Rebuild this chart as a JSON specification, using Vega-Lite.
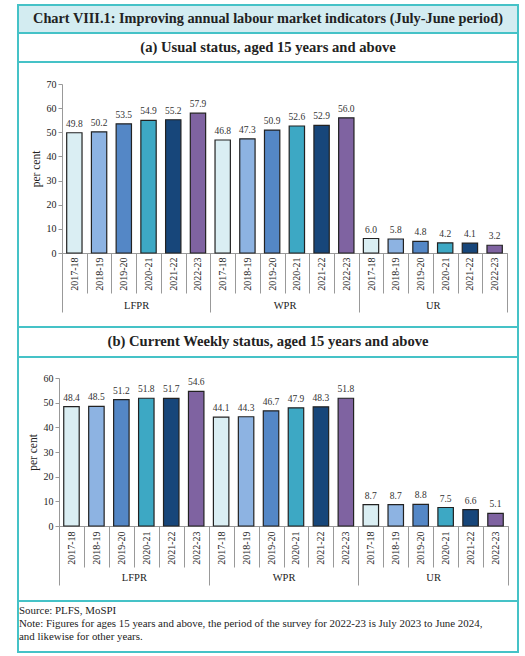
{
  "$schema": "https://vega.github.io/schema/vega-lite/v6.json",
  "background": "white",
  "padding": {"left": 12, "top": 4, "right": 12, "bottom": 3},
  "spacing": 0,
  "bounds": "flush",
  "datasets": {
    "a": [
      {"grp": "LFPR", "yr": "2017-18", "key": "LFPR|2017-18", "v": 49.8},
      {"grp": "LFPR", "yr": "2018-19", "key": "LFPR|2018-19", "v": 50.2},
      {"grp": "LFPR", "yr": "2019-20", "key": "LFPR|2019-20", "v": 53.5},
      {"grp": "LFPR", "yr": "2020-21", "key": "LFPR|2020-21", "v": 54.9},
      {"grp": "LFPR", "yr": "2021-22", "key": "LFPR|2021-22", "v": 55.2},
      {"grp": "LFPR", "yr": "2022-23", "key": "LFPR|2022-23", "v": 57.9},
      {"grp": "WPR", "yr": "2017-18", "key": "WPR|2017-18", "v": 46.8},
      {"grp": "WPR", "yr": "2018-19", "key": "WPR|2018-19", "v": 47.3},
      {"grp": "WPR", "yr": "2019-20", "key": "WPR|2019-20", "v": 50.9},
      {"grp": "WPR", "yr": "2020-21", "key": "WPR|2020-21", "v": 52.6},
      {"grp": "WPR", "yr": "2021-22", "key": "WPR|2021-22", "v": 52.9},
      {"grp": "WPR", "yr": "2022-23", "key": "WPR|2022-23", "v": 56.0},
      {"grp": "UR", "yr": "2017-18", "key": "UR|2017-18", "v": 6.0},
      {"grp": "UR", "yr": "2018-19", "key": "UR|2018-19", "v": 5.8},
      {"grp": "UR", "yr": "2019-20", "key": "UR|2019-20", "v": 4.8},
      {"grp": "UR", "yr": "2020-21", "key": "UR|2020-21", "v": 4.2},
      {"grp": "UR", "yr": "2021-22", "key": "UR|2021-22", "v": 4.1},
      {"grp": "UR", "yr": "2022-23", "key": "UR|2022-23", "v": 3.2}
    ],
    "b": [
      {"grp": "LFPR", "yr": "2017-18", "key": "LFPR|2017-18", "v": 48.4},
      {"grp": "LFPR", "yr": "2018-19", "key": "LFPR|2018-19", "v": 48.5},
      {"grp": "LFPR", "yr": "2019-20", "key": "LFPR|2019-20", "v": 51.2},
      {"grp": "LFPR", "yr": "2020-21", "key": "LFPR|2020-21", "v": 51.8},
      {"grp": "LFPR", "yr": "2021-22", "key": "LFPR|2021-22", "v": 51.7},
      {"grp": "LFPR", "yr": "2022-23", "key": "LFPR|2022-23", "v": 54.6},
      {"grp": "WPR", "yr": "2017-18", "key": "WPR|2017-18", "v": 44.1},
      {"grp": "WPR", "yr": "2018-19", "key": "WPR|2018-19", "v": 44.3},
      {"grp": "WPR", "yr": "2019-20", "key": "WPR|2019-20", "v": 46.7},
      {"grp": "WPR", "yr": "2020-21", "key": "WPR|2020-21", "v": 47.9},
      {"grp": "WPR", "yr": "2021-22", "key": "WPR|2021-22", "v": 48.3},
      {"grp": "WPR", "yr": "2022-23", "key": "WPR|2022-23", "v": 51.8},
      {"grp": "UR", "yr": "2017-18", "key": "UR|2017-18", "v": 8.7},
      {"grp": "UR", "yr": "2018-19", "key": "UR|2018-19", "v": 8.7},
      {"grp": "UR", "yr": "2019-20", "key": "UR|2019-20", "v": 8.8},
      {"grp": "UR", "yr": "2020-21", "key": "UR|2020-21", "v": 7.5},
      {"grp": "UR", "yr": "2021-22", "key": "UR|2021-22", "v": 6.6},
      {"grp": "UR", "yr": "2022-23", "key": "UR|2022-23", "v": 5.1}
    ]
  },
  "vconcat": [
    {
      "width": 500, "height": 28,
      "data": {"values": [{"t": "Chart VIII.1: Improving annual labour market indicators (July-June period)"}]},
      "layer": [
        {"mark": {"type": "bar", "fill": "#D3ECF1", "stroke": "#45C2C7", "strokeWidth": 2}, "encoding": {}},
        {"mark": {"type": "text", "font": "Liberation Serif", "fontWeight": "bold", "fontSize": 14.3, "color": "#222222"},
         "encoding": {"text": {"field": "t", "type": "nominal"}}}
      ]
    },
    {
      "width": 500, "height": 29,
      "data": {"values": [{"t": "(a) Usual status, aged 15 years and above"}]},
      "layer": [
        {"mark": {"type": "bar", "fill": "white", "stroke": "#45C2C7", "strokeWidth": 2}, "encoding": {}},
        {"mark": {"type": "text", "font": "Liberation Serif", "fontWeight": "bold", "fontSize": 14.6, "color": "#222222"},
         "encoding": {"text": {"field": "t", "type": "nominal"}}}
      ]
    },
    {
      "width": 500, "height": 265,
      "data": {"name": "a"},
      "layer": [
        {
          "layer": [
            {
              "mark": {"type": "bar", "width": {"band": 0.62}, "stroke": "#222222", "strokeWidth": 1.2},
              "encoding": {
                "x": {"field": "key", "type": "nominal", "sort": null,
                  "scale": {"range": [44, 489], "paddingInner": 0, "paddingOuter": 0},
                  "axis": {"orient": "bottom", "offset": -74, "title": null, "labelExpr": "split(datum.label, '|')[1]", "labelAngle": -90, "labelOverlap": false, "tickBand": "extent", "tickSize": 40, "labelPadding": -36}},
                "y": {"field": "v", "type": "quantitative",
                  "scale": {"domain": [0, 70], "range": [191, 22], "nice": false},
                  "axis": {"offset": -44, "values": [0, 10, 20, 30, 40, 50, 60, 70], "tickCount": 8, "labelOverlap": false, "grid": false, "title": "per cent", "titlePadding": 5, "tickSize": 4}},
                "color": {"field": "yr", "type": "nominal",
                  "scale": {"domain": ["2017-18", "2018-19", "2019-20", "2020-21", "2021-22", "2022-23"], "range": ["#DAEEF3", "#8DB3E2", "#5487C6", "#3DA8C4", "#17467A", "#7F63A1"]},
                  "legend": null}
              }
            },
            {
              "mark": {"type": "text", "baseline": "bottom", "dy": -4, "font": "Liberation Serif", "fontSize": 9.5, "color": "#333333"},
              "encoding": {
                "x": {"field": "key", "type": "nominal", "sort": null},
                "y": {"field": "v", "type": "quantitative"},
                "text": {"field": "v", "type": "quantitative", "format": ".1f"}
              }
            }
          ]
        },
        {
          "mark": {"type": "bar", "opacity": 0},
          "encoding": {
            "x": {"field": "grp", "type": "nominal", "sort": null,
              "scale": {"range": [44, 489], "paddingInner": 0, "paddingOuter": 0},
              "axis": {"orient": "bottom", "offset": -74, "title": null, "domain": false, "labelAngle": 0, "tickBand": "extent", "tickSize": 59, "labelPadding": -12, "labelFontSize": 10.5}}
          }
        }
      ],
      "resolve": {"scale": {"x": "independent"}, "axis": {"x": "independent"}}
    },
    {
      "width": 500, "height": 30,
      "data": {"values": [{"t": "(b) Current Weekly status, aged 15 years and above"}]},
      "layer": [
        {"mark": {"type": "bar", "fill": "white", "stroke": "#45C2C7", "strokeWidth": 2}, "encoding": {}},
        {"mark": {"type": "text", "font": "Liberation Serif", "fontWeight": "bold", "fontSize": 14.6, "color": "#222222"},
         "encoding": {"text": {"field": "t", "type": "nominal"}}}
      ]
    },
    {
      "width": 500, "height": 244,
      "data": {"name": "b"},
      "layer": [
        {
          "layer": [
            {
              "mark": {"type": "bar", "width": {"band": 0.62}, "stroke": "#222222", "strokeWidth": 1.2},
              "encoding": {
                "x": {"field": "key", "type": "nominal", "sort": null,
                  "scale": {"range": [41, 490], "paddingInner": 0, "paddingOuter": 0},
                  "axis": {"orient": "bottom", "offset": -75, "title": null, "labelExpr": "split(datum.label, '|')[1]", "labelAngle": -90, "labelOverlap": false, "tickBand": "extent", "tickSize": 41, "labelPadding": -36}},
                "y": {"field": "v", "type": "quantitative",
                  "scale": {"domain": [0, 60], "range": [169, 21], "nice": false},
                  "axis": {"offset": -41, "values": [0, 10, 20, 30, 40, 50, 60], "tickCount": 7, "labelOverlap": false, "grid": false, "title": "per cent", "titlePadding": 5, "tickSize": 4}},
                "color": {"field": "yr", "type": "nominal",
                  "scale": {"domain": ["2017-18", "2018-19", "2019-20", "2020-21", "2021-22", "2022-23"], "range": ["#DAEEF3", "#8DB3E2", "#5487C6", "#3DA8C4", "#17467A", "#7F63A1"]},
                  "legend": null}
              }
            },
            {
              "mark": {"type": "text", "baseline": "bottom", "dy": -4, "font": "Liberation Serif", "fontSize": 9.5, "color": "#333333"},
              "encoding": {
                "x": {"field": "key", "type": "nominal", "sort": null},
                "y": {"field": "v", "type": "quantitative"},
                "text": {"field": "v", "type": "quantitative", "format": ".1f"}
              }
            }
          ]
        },
        {
          "mark": {"type": "bar", "opacity": 0},
          "encoding": {
            "x": {"field": "grp", "type": "nominal", "sort": null,
              "scale": {"range": [41, 490], "paddingInner": 0, "paddingOuter": 0},
              "axis": {"orient": "bottom", "offset": -75, "title": null, "domain": false, "labelAngle": 0, "tickBand": "extent", "tickSize": 59, "labelPadding": -13, "labelFontSize": 10.5}}
          }
        }
      ],
      "resolve": {"scale": {"x": "independent"}, "axis": {"x": "independent"}}
    },
    {
      "width": 500, "height": 51,
      "data": {"values": [{"t": "footer"}]},
      "layer": [
        {"mark": {"type": "bar", "fill": "white", "stroke": "#45C2C7", "strokeWidth": 2}, "encoding": {}}
      ],
      "title": {
        "text": ["Source: PLFS, MoSPI", "Note: Figures for ages 15 years and above, the period of the survey for 2022-23 is July 2023 to June 2024,", "and likewise for other years."],
        "orient": "top", "anchor": "start", "frame": "group", "offset": -42, "dx": 1,
        "font": "Liberation Serif", "fontSize": 10.9, "fontWeight": "normal", "color": "#222222", "lineHeight": 13
      }
    }
  ],
  "config": {
    "view": {"stroke": "#45C2C7", "strokeWidth": 2},
    "axis": {
      "labelFont": "Liberation Serif", "labelFontSize": 10, "labelColor": "#222222",
      "titleFont": "Liberation Serif", "titleFontSize": 11.5, "titleFontWeight": "normal", "titleColor": "#222222",
      "domainColor": "#999999", "tickColor": "#999999"
    }
  }
}
